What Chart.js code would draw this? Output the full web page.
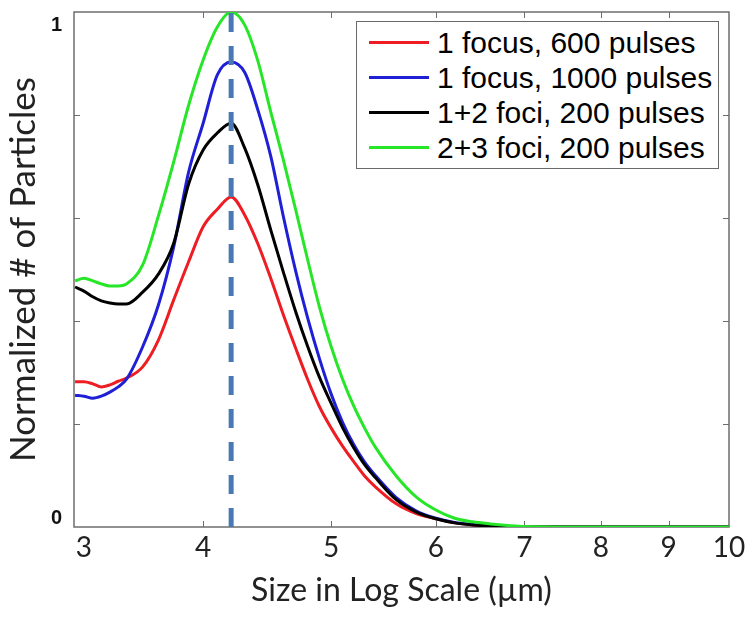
<!DOCTYPE html>
<html><head><meta charset="utf-8">
<script src="https://cdn.jsdelivr.net/npm/chart.js@4/dist/chart.umd.min.js"></script>
<style>
body{margin:0;background:#fff}
#wrap{position:relative;width:750px;height:622px}
#legend{position:absolute;left:356px;top:21px;width:361px;border:1.5px solid #6a6a6a;background:#fff;padding:3px 0;font:30px "Liberation Sans",Arial,sans-serif;color:#000}
.row{display:flex;align-items:center;height:35px;white-space:nowrap}
.row i{display:block;width:60px;height:3.5px;margin:0 8px 0 12px}
</style></head>
<body>
<div id="wrap"><canvas id="c" width="750" height="622"></canvas><div id="legend"></div></div>
<script>
// size axis (µm, log scale) and normalized counts
const sizes=[3.2,3.25,3.3,3.35,3.4,3.45,3.5,3.6,3.7,3.8,3.9,4.0,4.1,4.2,4.3,4.4,4.5,4.6,4.7,4.8,4.9,5.0,5.1,5.2,5.3,5.4,5.6,5.8,6.0,6.2,6.4,6.6,6.8,7.0,8.0,9.0,10.0];
const focus600=[0.282,0.282,0.278,0.272,0.276,0.283,0.289,0.311,0.363,0.441,0.515,0.583,0.617,0.641,0.606,0.550,0.483,0.412,0.347,0.286,0.233,0.192,0.157,0.127,0.099,0.078,0.045,0.026,0.016,0.008,0.004,0.002,0.001,0,0,0,0];
const focus1000=[0.256,0.254,0.250,0.254,0.262,0.272,0.287,0.350,0.431,0.544,0.689,0.784,0.878,0.903,0.883,0.810,0.720,0.603,0.497,0.405,0.326,0.258,0.203,0.160,0.126,0.100,0.057,0.031,0.017,0.009,0.005,0.002,0.001,0,0,0,0];
const foci12=[0.466,0.458,0.447,0.439,0.435,0.433,0.433,0.456,0.491,0.551,0.666,0.732,0.765,0.784,0.736,0.664,0.577,0.495,0.418,0.350,0.290,0.240,0.193,0.154,0.121,0.096,0.053,0.029,0.016,0.008,0.004,0.002,0.001,0,0,0,0];
const foci23=[0.478,0.483,0.478,0.472,0.468,0.468,0.472,0.509,0.604,0.709,0.819,0.907,0.971,1.0,0.975,0.905,0.806,0.713,0.616,0.518,0.426,0.350,0.287,0.235,0.192,0.155,0.099,0.058,0.033,0.017,0.010,0.006,0.003,0.001,0,0,0];
const seriesLabels=['1 focus, 600 pulses','1 focus, 1000 pulses','1+2 foci, 200 pulses','2+3 foci, 200 pulses'];
const seriesColors=['#ee1d23','#1f1fd6','#000000','#27e527'];
const peakSize=4.2;
const xMin=3.194,xMax=10;
const xTicks=[3.25,4,5,6,7,8,9,10];
const xTickLabels=['3','4','5','6','7','8','9','10'];
const yTicks=[0,0.2,0.4,0.6,0.8,1];
const yTickLabels=['0','','','','','1'];

const series=[focus600,focus1000,foci12,foci23];
const datasets=series.map((s,i)=>({
  label:seriesLabels[i],
  data:sizes.map((x,j)=>({x,y:s[j]})),
  borderColor:seriesColors[i],backgroundColor:seriesColors[i],
  borderWidth:3,pointRadius:0,cubicInterpolationMode:'monotone',order:4-i
}));
datasets.push({label:'peak',data:[{x:peakSize,y:0},{x:peakSize,y:1}],borderColor:'#4a78b4',borderWidth:5,borderDash:[19,14],pointRadius:0,order:-1});

// legend as html
document.getElementById('legend').innerHTML=seriesLabels.map((l,i)=>`<div class="row"><i style="background:${seriesColors[i]}"></i>${l}</div>`).join('');

const frame={
  id:'frame',
  beforeDatasetsDraw(ch){
    const {ctx,chartArea:a,scales:{x,y}}=ch;
    ctx.save();
    ctx.strokeStyle='#6d6d6d';ctx.lineWidth=1.5;
    ctx.strokeRect(a.left,a.top,a.right-a.left,a.bottom-a.top);
    ctx.lineWidth=1;ctx.beginPath();
    xTicks.filter(v=>v>=4&&v<10).forEach(v=>{const p=Math.round(x.getPixelForValue(v))+0.5;ctx.moveTo(p,a.bottom);ctx.lineTo(p,a.bottom-6);ctx.moveTo(p,a.top);ctx.lineTo(p,a.top+6);});
    yTicks.filter(v=>v>0&&v<1).forEach(v=>{const p=Math.round(y.getPixelForValue(v))+0.5;ctx.moveTo(a.left,p);ctx.lineTo(a.left+6,p);ctx.moveTo(a.right,p);ctx.lineTo(a.right-6,p);});
    ctx.stroke();
    // y labels, nudged inside the frame as in the figure
    ctx.fillStyle='#111';ctx.font='bold 20px "Liberation Sans",Arial,sans-serif';
    ctx.textAlign='right';ctx.textBaseline='middle';
    yTicks.forEach((v,i)=>{if(!yTickLabels[i])return;const p=y.getPixelForValue(v)+(v===1?13:-9);ctx.fillText(yTickLabels[i],62,p);});
    ctx.restore();
  }
};

new Chart(document.getElementById('c'),{
  type:'line',
  data:{datasets},
  options:{
    responsive:false,animation:false,
    layout:{padding:{top:12,right:21,left:0,bottom:0}},
    plugins:{legend:{display:false},tooltip:{enabled:false}},
    scales:{
      x:{type:'logarithmic',min:xMin,max:xMax,
        afterBuildTicks:s=>{s.ticks=xTicks.map(v=>({value:v}));},
        afterFit:s=>{s.height=95;},
        grid:{display:false,drawTicks:false},border:{display:false},
        ticks:{autoSkip:false,maxRotation:0,padding:4,color:'#222',font:{family:'Lato',size:28},callback:(v,i)=>xTickLabels[i]},
        title:{display:true,text:'Size in Log Scale (µm)',color:'#222',font:{family:'Lato',size:32},padding:{top:0,bottom:12}}},
      y:{min:0,max:1,
        afterFit:s=>{s.width=74;},
        grid:{display:false,drawTicks:false},border:{display:false},
        ticks:{display:false},
        title:{display:true,text:'Normalized # of Particles',color:'#222',font:{family:'Lato',size:35},padding:{top:3,bottom:0}}}
    }
  },
  plugins:[frame]
});
</script>
</body></html>
